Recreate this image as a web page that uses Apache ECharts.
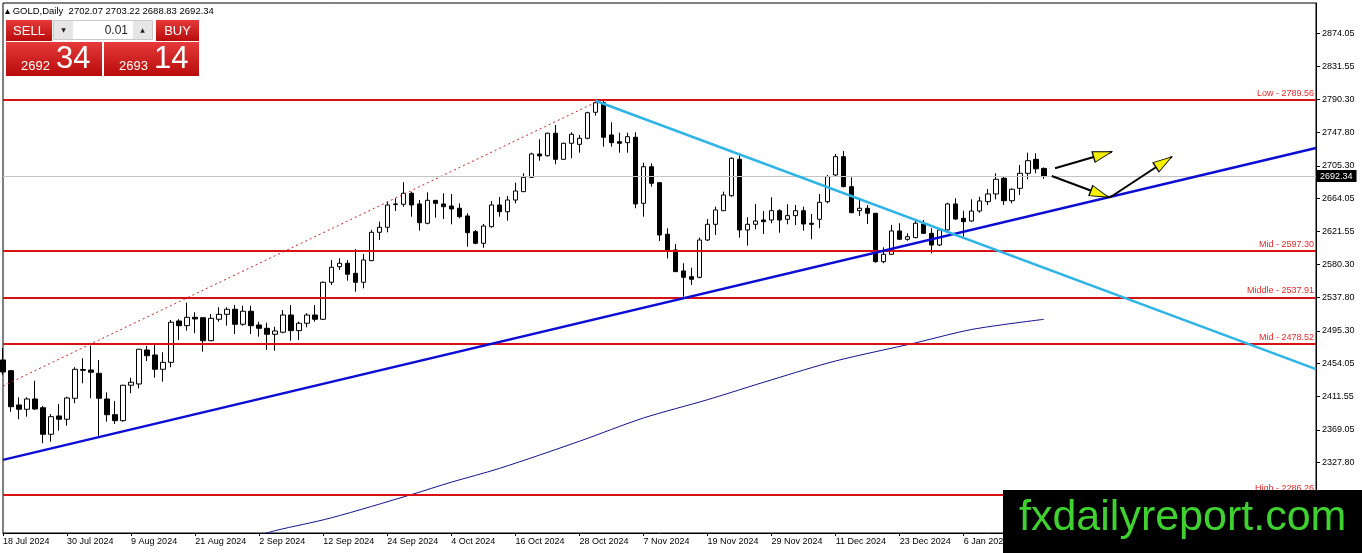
<!DOCTYPE html>
<html>
<head>
<meta charset="utf-8">
<title>GOLD, Daily</title>
<script src="https://cdn.jsdelivr.net/npm/echarts@6/dist/echarts.min.js"></script>
<style>
  html, body { margin: 0; padding: 0; background: #fff; }
  #main { width: 1362px; height: 553px; }
</style>
</head>
<body>
<div id="main"></div>
<script>
// daily bars: [open, close, low, high]
var ohlc = [
  [2458.2, 2442.9, 2439.1, 2473.4], [2444.5, 2398.7, 2392.3, 2445.4], [2400.9, 2395.4, 2382.7, 2410.6],
  [2395.4, 2408.5, 2386.0, 2410.6], [2408.5, 2395.8, 2394.5, 2431.8], [2397.4, 2363.6, 2352.1, 2399.6],
  [2363.6, 2386.0, 2354.2, 2389.4], [2386.9, 2382.7, 2368.2, 2402.2], [2382.7, 2409.8, 2374.5, 2411.4],
  [2409.4, 2446.3, 2403.0, 2448.9], [2446.0, 2445.0, 2428.5, 2460.3], [2445.4, 2442.5, 2409.4, 2476.4],
  [2441.2, 2409.4, 2361.6, 2458.2], [2408.5, 2388.5, 2379.6, 2417.0], [2388.5, 2380.9, 2376.7, 2406.0],
  [2380.9, 2426.0, 2379.6, 2426.5], [2426.0, 2429.8, 2415.8, 2435.6], [2427.6, 2471.8, 2422.1, 2472.2],
  [2470.9, 2463.6, 2456.9, 2476.0], [2464.5, 2446.3, 2435.6, 2477.2], [2446.3, 2455.2, 2430.5, 2468.0],
  [2455.2, 2506.2, 2448.9, 2509.1], [2507.8, 2501.8, 2483.6, 2510.0], [2501.8, 2512.5, 2495.5, 2531.1],
  [2512.5, 2510.4, 2492.2, 2518.9], [2512.0, 2482.7, 2468.7, 2512.3], [2482.7, 2511.2, 2482.3, 2516.7],
  [2510.0, 2516.3, 2506.9, 2525.2], [2516.3, 2522.7, 2501.8, 2525.2], [2522.7, 2503.6, 2491.3, 2528.2],
  [2503.6, 2520.2, 2501.8, 2527.3], [2520.2, 2501.8, 2491.3, 2527.3], [2502.7, 2498.5, 2487.8, 2506.9],
  [2498.5, 2490.9, 2470.9, 2505.6], [2490.9, 2495.1, 2470.0, 2500.5], [2493.5, 2515.4, 2492.2, 2521.8],
  [2515.4, 2495.5, 2482.7, 2528.2], [2495.5, 2504.9, 2483.6, 2506.9], [2504.9, 2515.4, 2499.8, 2517.6],
  [2515.4, 2510.0, 2506.9, 2528.2], [2510.0, 2557.1, 2509.1, 2557.9], [2557.1, 2576.2, 2553.6, 2585.5],
  [2576.9, 2581.3, 2572.7, 2587.6], [2581.3, 2567.3, 2559.1, 2585.5], [2568.5, 2557.1, 2545.1, 2599.5],
  [2557.1, 2585.5, 2549.4, 2593.1], [2584.6, 2620.7, 2584.0, 2623.7], [2620.7, 2627.1, 2610.9, 2634.2],
  [2627.1, 2655.5, 2620.7, 2659.7], [2656.0, 2656.8, 2647.8, 2664.0], [2656.4, 2670.4, 2653.3, 2684.4],
  [2670.4, 2655.5, 2640.6, 2672.4], [2656.8, 2632.9, 2622.8, 2661.8], [2632.2, 2661.4, 2630.9, 2671.6],
  [2661.4, 2657.6, 2639.3, 2661.8], [2656.8, 2653.3, 2637.6, 2670.4], [2654.2, 2650.4, 2630.9, 2669.5],
  [2651.3, 2640.6, 2638.5, 2657.6], [2641.5, 2620.2, 2602.4, 2644.9], [2621.5, 2606.7, 2605.5, 2623.7],
  [2606.7, 2628.7, 2601.1, 2631.3], [2627.9, 2655.5, 2626.6, 2660.6], [2655.5, 2646.9, 2640.6, 2665.7],
  [2646.9, 2661.8, 2635.5, 2666.9], [2661.8, 2673.3, 2657.6, 2683.9], [2672.4, 2690.7, 2672.0, 2695.8],
  [2690.7, 2720.4, 2690.5, 2722.1], [2720.4, 2717.9, 2711.9, 2739.1], [2718.2, 2746.8, 2717.0, 2747.5],
  [2746.8, 2713.6, 2707.3, 2757.3], [2713.6, 2734.0, 2713.2, 2734.8], [2734.0, 2745.5, 2714.9, 2748.0],
  [2732.7, 2740.4, 2722.1, 2744.6], [2740.4, 2772.9, 2739.1, 2774.2], [2773.5, 2785.7, 2769.2, 2789.6],
  [2785.7, 2741.7, 2729.7, 2787.9], [2744.6, 2734.8, 2729.7, 2760.8], [2736.1, 2734.0, 2722.1, 2747.5],
  [2734.8, 2742.4, 2722.1, 2747.5], [2741.7, 2656.8, 2651.3, 2748.0], [2657.6, 2704.2, 2640.6, 2709.3],
  [2704.2, 2683.1, 2678.8, 2708.5], [2683.9, 2617.3, 2609.6, 2684.5], [2618.2, 2598.2, 2587.6, 2625.8],
  [2598.2, 2570.6, 2570.3, 2605.8], [2571.5, 2563.4, 2538.7, 2581.3], [2564.2, 2560.9, 2553.6, 2575.7],
  [2563.4, 2610.9, 2562.2, 2613.9], [2610.9, 2630.9, 2609.6, 2637.6], [2630.9, 2649.1, 2617.3, 2653.3],
  [2648.2, 2668.2, 2647.8, 2672.4], [2667.3, 2714.9, 2666.0, 2716.2], [2713.6, 2623.7, 2613.9, 2719.1],
  [2623.7, 2630.9, 2603.7, 2639.8], [2630.9, 2635.1, 2624.5, 2656.8], [2636.4, 2634.2, 2618.6, 2647.8],
  [2636.4, 2648.2, 2632.2, 2665.3], [2648.2, 2636.4, 2620.2, 2650.0], [2637.3, 2641.9, 2630.9, 2656.4],
  [2641.9, 2648.2, 2630.0, 2655.5], [2648.2, 2631.3, 2622.8, 2653.3], [2632.2, 2630.9, 2611.8, 2644.0],
  [2637.3, 2658.9, 2625.8, 2669.5], [2659.7, 2691.5, 2657.6, 2693.7], [2693.7, 2717.0, 2692.4, 2720.4],
  [2717.0, 2678.8, 2678.0, 2724.2], [2678.8, 2645.7, 2644.9, 2690.7], [2648.2, 2651.3, 2641.5, 2661.8],
  [2651.3, 2644.9, 2631.3, 2655.5], [2644.9, 2583.3, 2582.0, 2645.3], [2583.3, 2592.7, 2581.3, 2601.6],
  [2592.7, 2622.4, 2591.8, 2630.0], [2622.4, 2611.8, 2610.9, 2632.2], [2611.8, 2615.1, 2610.0, 2619.4],
  [2613.9, 2632.2, 2613.1, 2635.1], [2631.3, 2619.4, 2618.6, 2636.4], [2619.4, 2604.5, 2594.0, 2625.8],
  [2604.5, 2623.7, 2603.3, 2625.8], [2623.7, 2656.8, 2622.8, 2658.4], [2656.8, 2637.6, 2636.4, 2664.0],
  [2638.5, 2634.2, 2615.1, 2648.2], [2635.1, 2647.8, 2634.2, 2662.7], [2647.8, 2660.6, 2645.7, 2666.0],
  [2659.7, 2669.5, 2655.5, 2675.8], [2669.5, 2688.2, 2662.7, 2695.8], [2689.5, 2660.9, 2655.5, 2692.4],
  [2660.9, 2675.5, 2657.6, 2676.7], [2676.7, 2695.8, 2668.2, 2706.4], [2695.8, 2711.9, 2688.2, 2722.1],
  [2713.6, 2701.5, 2695.8, 2721.3], [2702.07, 2692.34, 2688.83, 2703.22]
];

// moving average, read at a few bars: [bar index, price]
var maPoints = [
  [31, 2232.0], [34, 2240.9], [41, 2257.2], [51, 2286.8], [56, 2302.6], [62, 2320.1], [72, 2354.7],
  [80, 2384.3], [88, 2407.6], [96, 2432.9], [104, 2456.9], [114, 2480.0], [121, 2497.0], [130, 2509.9]
];

// drawn objects: [bar index, price]
var supportLine = [[0, 2331.0], [164, 2728.0]];
var resistanceLine = [[74, 2788.2], [164, 2446.5]];
var channelLine = [[0, 2425.1], [74, 2786.0]];
var arrowLines = [
  [[131.4, 2702.2], [138.5, 2723.3]],
  [[131.0, 2692.4], [138.1, 2665.3]],
  [[138.3, 2665.3], [146.0, 2716.9]]
];

var levels = [2789.56, 2597.30, 2537.91, 2478.52, 2286.26];
var levelNames = ['Low', 'Mid', 'Middle', 'Mid', 'High'];
var lastPrice = 2692.34;
var header = ['2702.07', '2703.22', '2688.83', '2692.34'];

var yTicks = [2874.05, 2831.55, 2790.30, 2747.80, 2705.30, 2664.05, 2621.55, 2580.30,
  2537.80, 2495.30, 2454.05, 2411.55, 2369.05, 2327.80];
var tickLabels = ['18 Jul 2024', '30 Jul 2024', '9 Aug 2024', '21 Aug 2024', '2 Sep 2024',
  '12 Sep 2024', '24 Sep 2024', '4 Oct 2024', '16 Oct 2024', '28 Oct 2024', '7 Nov 2024',
  '19 Nov 2024', '29 Nov 2024', '11 Dec 2024', '23 Dec 2024', '6 Jan 2025'];

// trading days from the first bar, incl. empty space to the right
var monthNames = ['Jan', 'Feb', 'Mar', 'Apr', 'May', 'Jun', 'Jul', 'Aug', 'Sep', 'Oct', 'Nov', 'Dec'];
var holidays = ['2024-12-25', '2025-01-01'];
var dates = [];
var day = new Date(Date.UTC(2024, 6, 18));
while (dates.length < 165) {
  var iso = day.toISOString().slice(0, 10);
  var wd = day.getUTCDay();
  if (wd !== 0 && wd !== 6 && holidays.indexOf(iso) < 0) {
    dates.push(day.getUTCDate() + ' ' + monthNames[day.getUTCMonth()] + ' ' + day.getUTCFullYear());
  }
  day.setUTCDate(day.getUTCDate() + 1);
}

var FONT = 'Liberation Sans';
var red = '#d81212';

var myChart = echarts.init(document.getElementById('main'));

function redGrad() {
  return new echarts.graphic.LinearGradient(0, 0, 0, 1, [
    { offset: 0, color: '#e63a3a' },
    { offset: 1, color: '#b80c0c' }
  ]);
}

var levelLines = levels.map(function (v, i) {
  return {
    yAxis: v,
    lineStyle: { color: red, width: 2, type: 'solid' },
    label: {
      show: true, position: 'insideEndTop', distance: 2,
      formatter: levelNames[i] + ' - ' + v.toFixed(2),
      color: '#e8282a', fontSize: 9, fontFamily: FONT
    }
  };
});
levelLines.push({
  yAxis: lastPrice,
  lineStyle: { color: '#c4c4c4', width: 1, type: 'solid' },
  label: {
    show: true, position: 'end', distance: 1,
    formatter: lastPrice.toFixed(2),
    color: '#fff', backgroundColor: '#000', padding: [2, 4, 1, 3],
    fontSize: 9, fontFamily: FONT
  }
});

var arrowSeries = arrowLines.map(function (pts, i) {
  return {
    id: 'arrow' + i, type: 'line', xAxisIndex: 1, data: pts,
    showSymbol: false, silent: true, z: 6,
    lineStyle: { color: '#000', width: 2 }
  };
});

var option = {
  animation: false,
  textStyle: { fontFamily: FONT },
  grid: { left: 3, right: 46, top: 3, bottom: 20, show: true, borderColor: '#000', borderWidth: 1 },
  xAxis: [{
    type: 'category', data: dates, boundaryGap: false,
    axisLine: { onZero: false, lineStyle: { color: '#000', width: 1 } },
    axisTick: { length: 3, lineStyle: { color: '#000' }, interval: function (i) { return i % 8 === 0; } },
    axisLabel: {
      interval: function (i) { return i % 8 === 0; },
      formatter: function (v, i) { return tickLabels[i / 8] || ''; },
      align: 'left', margin: 4, color: '#000', fontSize: 9, fontFamily: FONT
    },
    splitLine: { show: false }
  }, {
    type: 'value', min: 0, max: 164, show: false,
    axisLine: { onZero: false }
  }],
  yAxis: {
    type: 'value', position: 'right', min: 2237.9, max: 2912.6,
    axisLine: { show: true, onZero: false, lineStyle: { color: '#000', width: 1 } },
    axisTick: { show: true, length: 4, customValues: yTicks, lineStyle: { color: '#000' } },
    axisLabel: {
      customValues: yTicks, margin: 6, color: '#000', fontSize: 9, fontFamily: FONT,
      formatter: function (v) { return v.toFixed(2); }
    },
    splitLine: { show: false }
  },
  series: [{
    type: 'candlestick', name: 'GOLD', data: ohlc, barWidth: 5, z: 3, clip: true,
    itemStyle: { color: '#fff', color0: '#000', borderColor: '#000', borderColor0: '#000', borderWidth: 1 },
    markLine: { symbol: ['none', 'none'], silent: true, animation: false, data: levelLines }
  }, {
    type: 'line', name: 'MA', xAxisIndex: 1, data: maPoints, smooth: 0.3,
    showSymbol: false, silent: true, z: 2,
    lineStyle: { color: '#12128c', width: 1 }
  }, {
    type: 'line', name: 'support', xAxisIndex: 1, data: supportLine,
    showSymbol: false, silent: true, z: 5,
    lineStyle: { color: '#0c0cd4', width: 2.5 }
  }, {
    type: 'line', name: 'resistance', xAxisIndex: 1, data: resistanceLine,
    showSymbol: false, silent: true, z: 5,
    lineStyle: { color: '#2fb4e8', width: 2.5 }
  }, {
    type: 'line', name: 'channel', xAxisIndex: 1, data: channelLine,
    showSymbol: false, silent: true, z: 4,
    lineStyle: { color: '#cc2222', width: 1, type: [2, 3] }
  }].concat(arrowSeries).concat([{
    id: 'heads', type: 'scatter', xAxisIndex: 1, data: [], z: 7, silent: true,
    symbol: 'triangle', symbolSize: [11, 19],
    itemStyle: { color: '#f4f000', borderColor: '#000', borderWidth: 1, opacity: 1 }
  }]),
  graphic: [
    { type: 'text', z: 100, x: 5, y: 11, style: {
      text: '\u25B4 GOLD,Daily  ' + header.join(' '), fill: '#000',
      font: '9.5px "Liberation Sans"', verticalAlign: 'middle' } },
    // trading panel
    { type: 'rect', z: 100, shape: { x: 6, y: 20, width: 46, height: 21 }, style: { fill: redGrad() } },
    { type: 'rect', z: 100, shape: { x: 156, y: 20, width: 43, height: 21 }, style: { fill: redGrad() } },
    { type: 'line', z: 101, shape: { x1: 9, y1: 41.5, x2: 49, y2: 41.5 }, style: { stroke: 'rgba(255,255,255,0.7)', lineWidth: 1 } },
    { type: 'line', z: 101, shape: { x1: 158, y1: 41.5, x2: 196, y2: 41.5 }, style: { stroke: 'rgba(255,255,255,0.7)', lineWidth: 1 } },
    { type: 'text', z: 101, x: 29, y: 31, style: { text: 'SELL', fill: '#fff', font: '13px "Liberation Sans"', align: 'center', verticalAlign: 'middle' } },
    { type: 'text', z: 101, x: 177.5, y: 31, style: { text: 'BUY', fill: '#fff', font: '13px "Liberation Sans"', align: 'center', verticalAlign: 'middle' } },
    { type: 'rect', z: 100, shape: { x: 53.5, y: 20.5, width: 99, height: 19 }, style: { fill: '#fff', stroke: '#c8c8c8', lineWidth: 1 } },
    { type: 'rect', z: 101, shape: { x: 54, y: 21, width: 19, height: 18 }, style: { fill: '#e6e6e6' } },
    { type: 'rect', z: 101, shape: { x: 133, y: 21, width: 19, height: 18 }, style: { fill: '#e6e6e6' } },
    { type: 'text', z: 102, x: 63.5, y: 30, style: { text: '\u25BC', fill: '#222', font: '6px "DejaVu Sans"', align: 'center', verticalAlign: 'middle' } },
    { type: 'text', z: 102, x: 142.5, y: 30, style: { text: '\u25B2', fill: '#222', font: '6px "DejaVu Sans"', align: 'center', verticalAlign: 'middle' } },
    { type: 'text', z: 102, x: 128, y: 30.5, style: { text: '0.01', fill: '#222', font: '12px "Liberation Sans"', align: 'right', verticalAlign: 'middle' } },
    { type: 'rect', z: 100, shape: { x: 6, y: 42, width: 96, height: 34 }, style: { fill: redGrad() } },
    { type: 'rect', z: 100, shape: { x: 104, y: 42, width: 95, height: 34 }, style: { fill: redGrad() } },
    { type: 'text', z: 101, x: 21, y: 66.5, style: { text: '2692', fill: '#fff', font: '13px "Liberation Sans"', verticalAlign: 'middle' } },
    { type: 'text', z: 101, x: 56, y: 59, style: { text: '34', fill: '#fff', font: '31px "Liberation Sans"', verticalAlign: 'middle' } },
    { type: 'text', z: 101, x: 119, y: 66.5, style: { text: '2693', fill: '#fff', font: '13px "Liberation Sans"', verticalAlign: 'middle' } },
    { type: 'text', z: 101, x: 154, y: 59, style: { text: '14', fill: '#fff', font: '31px "Liberation Sans"', verticalAlign: 'middle' } },
    // watermark
    { type: 'rect', z: 110, shape: { x: 1003, y: 490, width: 359, height: 63 }, style: { fill: '#000' } },
    { type: 'text', z: 111, x: 1019, y: 518, style: { text: 'fxdailyreport.com', fill: '#3fd12f', font: '43px "Liberation Sans"', verticalAlign: 'middle' } }
  ]
};

myChart.setOption(option);

// arrow heads follow the direction of each arrow on screen
var headLen = 19;
var heads = arrowLines.map(function (pts, i) {
  var p = myChart.convertToPixel({ seriesId: 'arrow' + i }, pts[0]);
  var q = myChart.convertToPixel({ seriesId: 'arrow' + i }, pts[1]);
  var ang = Math.atan2(q[1] - p[1], q[0] - p[0]);
  return {
    value: pts[1],
    symbolRotate: -90 - ang * 180 / Math.PI,
    symbolOffset: [-Math.cos(ang) * headLen / 2, -Math.sin(ang) * headLen / 2]
  };
});
myChart.setOption({ series: [{ id: 'heads', data: heads }] });
</script>
</body>
</html>
